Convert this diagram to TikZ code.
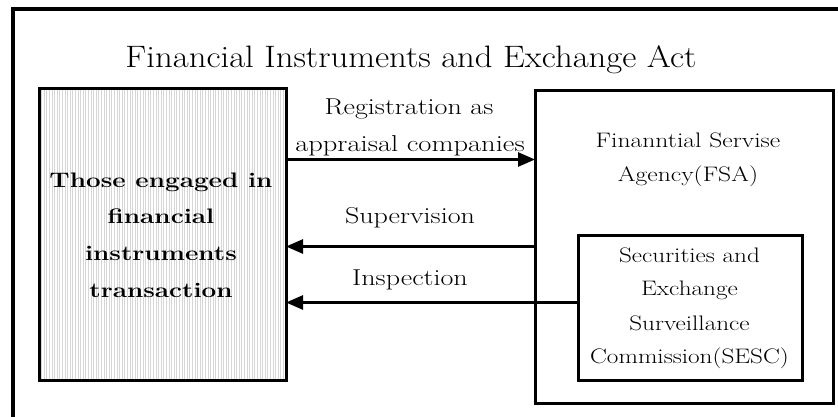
\documentclass[tikz,border=0pt]{standalone}
\usepackage{fontspec}
\usetikzlibrary{arrows.meta,patterns.meta}
\newcommand\wideTxt[2]{\scalebox{#1}[1]{#2}}
\tikzset{
  frameline/.style={line width=4pt, line join=miter},
  box/.style={draw, line width=3pt, inner sep=0pt, outer sep=0pt, fill=white},
  hatchbox/.style={box, fill=none, pattern={Lines[angle=90,distance=2.6pt,line width=0.65pt]}, pattern color=gray!32},
  conn/.style={line width=2.7pt, -{Triangle[length=17pt,width=14pt]}},
  ttl/.style={font=\fontsize{31}{37}\selectfont, anchor=base, inner sep=0pt},
  lbl/.style={font=\fontsize{23}{27}\selectfont, anchor=base, inner sep=0pt},
  btxt/.style={font=\fontsize{21}{25}\selectfont, anchor=base, inner sep=0pt},
  bld/.style={font=\fontsize{21}{25}\selectfont\bfseries, anchor=base, inner sep=0pt},
}
\begin{document}
\begin{tikzpicture}[x=1pt,y=-1pt]
\useasboundingbox (0,0) rectangle (838,417);
% outer frame (cut off at right and bottom)
\draw[frameline] (13,420) -- (13,9) -- (841,9);
% title
\node[ttl] (title) at (411,68) {\wideTxt{1.12}{Financial Instruments and Exchange Act}};
% boxes
\node[hatchbox, minimum width=247pt, minimum height=291pt] (lbox) at (162.5,234.5) {};
\node[box, minimum width=298pt, minimum height=312pt] (fsa) at (684,247) {};
\node[box, minimum width=224pt, minimum height=145pt] (sesc) at (690,307.5) {};
% left box text
\node[bld] (l1) at (161,187) {\wideTxt{1.24}{Those engaged in}};
\node[bld] (l2) at (161,223) {\wideTxt{1.24}{financial}};
\node[bld] (l3) at (161,260) {\wideTxt{1.24}{instruments}};
\node[bld] (l4) at (161,297) {\wideTxt{1.24}{transaction}};
% FSA text
\node[btxt] (f1) at (688,148) {\wideTxt{1.22}{Finanntial Servise}};
\node[btxt] (f2) at (688,181) {\wideTxt{1.22}{Agency(FSA)}};
% SESC text
\node[btxt] (s1) at (689.5,262) {\wideTxt{1.2}{Securities and}};
\node[btxt] (s2) at (689.5,295) {\wideTxt{1.2}{Exchange}};
\node[btxt] (s3) at (689.5,330) {\wideTxt{1.2}{Surveillance}};
\node[btxt] (s4) at (689.5,363) {\wideTxt{1.2}{Commission(SESC)}};
% connectors
\coordinate (yreg) at (410,159.5);
\coordinate (ysup) at (410,246.5);
\coordinate (yins) at (410,302.5);
\draw[conn] (lbox.east |- yreg) -- (fsa.west |- yreg);
\draw[conn] (fsa.west |- ysup) -- (lbox.east |- ysup);
\draw[conn] (sesc.west |- yins) -- (lbox.east |- yins);
% connector labels
\node[lbl] (r1) at (409,115) {\wideTxt{1.22}{Registration as}};
\node[lbl] (r2) at (410,152) {\wideTxt{1.24}{appraisal companies}};
\node[lbl] (sup) at (410,223) {\wideTxt{1.22}{Supervision}};
\node[lbl] (ins) at (410,285) {\wideTxt{1.22}{Inspection}};
\end{tikzpicture}
\end{document}
